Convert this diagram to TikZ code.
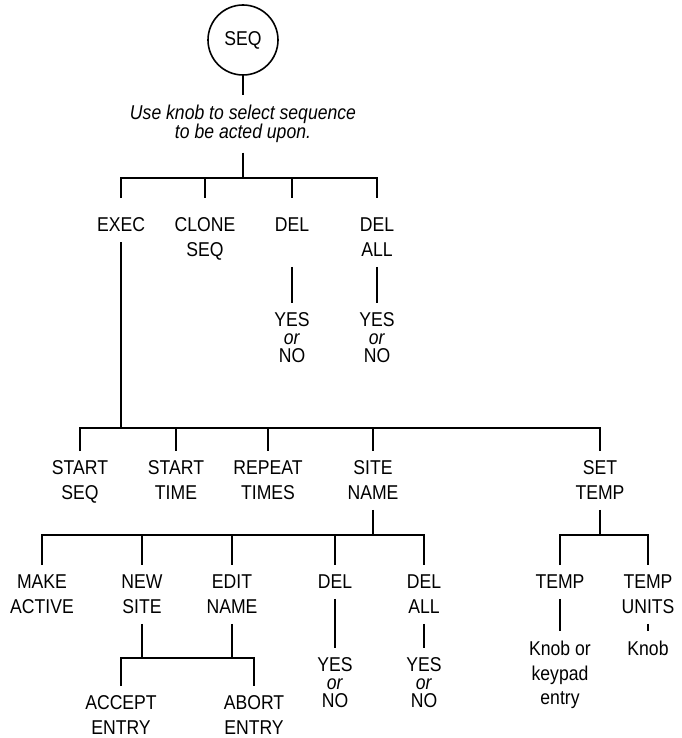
\documentclass[tikz,border=0pt]{standalone}
\usepackage{fontspec}
\setmainfont[FakeStretch=0.88]{Liberation Sans}
\begin{document}
\begin{tikzpicture}[x=1pt, y=-1pt,
  lbl/.style={anchor=north, align=center, inner sep=2pt, outer ysep=8pt, font=\fontsize{20}{25}\selectfont},
  yesno/.style={lbl, font=\fontsize{20}{18}\selectfont},
  wire/.style={line width=1.6pt}]
\useasboundingbox (0,0) rectangle (681,738);
\node [draw, circle, line width=1.6pt, minimum size=70pt, font=\fontsize{20}{25}\selectfont] (seq) at (243,40) {SEQ};
\node [lbl, font=\itshape\fontsize{20}{19}\selectfont] (note) at (243,95) {Use knob to select sequence\\to be acted upon.};
% first row
\coordinate (b1) at (243,178);
\node [lbl] (exec) at (121,208) {EXEC};
\node [lbl] (clone) at (205,208) {CLONE\\SEQ};
\node [lbl] (del) at (292,208) {DEL};
\node [lbl] (dela) at (377,208) {DEL\\ALL};
\node [yesno] (yes1) at (292,303) {YES\\\textit{or}\\NO};
\node [yesno] (yes2) at (377,303) {YES\\\textit{or}\\NO};
% exec row
\coordinate (b2) at (121,428);
\node [lbl] (startseq) at (80,451) {START\\SEQ};
\node [lbl] (starttime) at (176,451) {START\\TIME};
\node [lbl] (rep) at (268,451) {REPEAT\\TIMES};
\node [lbl] (site) at (373,451) {SITE\\NAME};
\node [lbl] (settemp) at (600,451) {SET\\TEMP};
% site name row
\coordinate (b3) at (373,535);
\node [lbl] (make) at (42,565) {MAKE\\ACTIVE};
\node [lbl] (newsite) at (142,565) {NEW\\SITE};
\node [lbl] (edit) at (232,565) {EDIT\\NAME};
\node [lbl] (sdel) at (335,565) {DEL};
\node [lbl] (sdela) at (424,565) {DEL\\ALL};
\coordinate (b4) at (187,658);
\node [lbl] (accept) at (121,686) {ACCEPT\\ENTRY};
\node [lbl] (abort) at (254,686) {ABORT\\ENTRY};
\node [yesno] (syes1) at (335,648) {YES\\\textit{or}\\NO};
\node [yesno] (syes2) at (424,648) {YES\\\textit{or}\\NO};
% set temp row
\coordinate (b5) at (600,535);
\node [lbl] (temp) at (560,565) {TEMP};
\node [lbl] (units) at (648,565) {TEMP\\UNITS};
\node [lbl, font=\fontsize{20}{24.5}\selectfont] (knobor) at (560,631) {Knob or\\keypad\\entry};
\node [lbl] (knob) at (648,631) {Knob};
% connectors
\draw [wire] (seq) -- (note);
\draw [wire] (note) -- (b1);
\draw [wire, shorten <=10pt, shorten >=10pt] (exec) |- (b1) -| (dela);
\foreach \n in {clone, del} \draw [wire, shorten >=10pt] (b1 -| \n) -- (\n);
\draw [wire] (del |- dela.south) -- (yes1);
\draw [wire] (dela) -- (yes2);
\draw [wire] (exec) -- (exec |- b2);
\draw [wire] (startseq) |- (b2) -| (settemp);
\foreach \n in {starttime, rep, site} \draw [wire] (b2 -| \n) -- (\n);
\draw [wire] (site) -- (b3);
\draw [wire] (make) |- (b3) -| (sdela);
\foreach \n in {newsite, edit, sdel} \draw [wire] (b3 -| \n) -- (\n);
\draw [wire] (newsite) -- (newsite |- b4);
\draw [wire] (edit) -- (edit |- b4);
\draw [wire] (accept) |- (b4) -| (abort);
\draw [wire] (sdel) -- (syes1);
\draw [wire] (sdela) -- (syes2);
\draw [wire] (settemp) -- (b5);
\draw [wire] (temp) |- (b5) -| (units);
\draw [wire] (temp) -- (knobor);
\draw [wire] (units) -- (knob);
\end{tikzpicture}
\end{document}
